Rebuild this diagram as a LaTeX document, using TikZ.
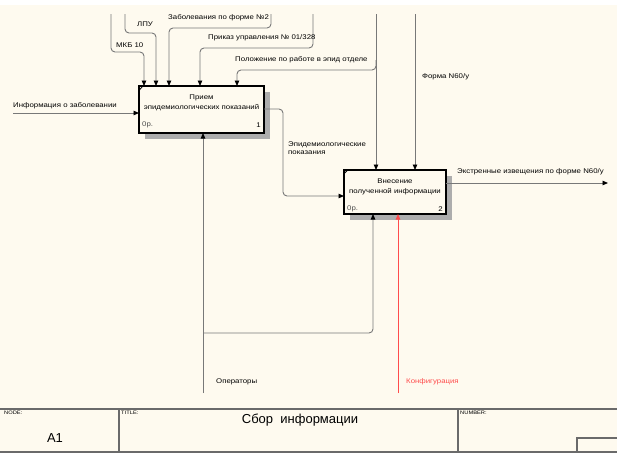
\documentclass[tikz,border=0pt]{standalone}
\usepackage{fontspec}
\setmainfont{Liberation Sans}
\newfontfamily\lbl[FakeStretch=1.15]{Liberation Sans}
\usetikzlibrary{arrows.meta,calc}
\definecolor{paper}{HTML}{FEFAEF}
\definecolor{wire}{HTML}{787878}
\definecolor{rule}{HTML}{6A6A6A}
\definecolor{cfg}{HTML}{FF4C4C}
\begin{document}
\begin{tikzpicture}[x=1pt,y=-1pt,
  wire/.style={draw=wire,line width=0.9pt,rounded corners=4pt},
  arr/.style={-{Triangle[length=5.5pt,width=4.5pt,color=black]}},
  redarr/.style={-{Triangle[length=5.5pt,width=4.5pt,color=cfg]}},
  lab/.style={font=\lbl\fontsize{6.8}{7.8}\selectfont,inner sep=0pt,anchor=west},
  func/.style={draw=black,line width=1.3pt,fill=paper,inner sep=0pt},
  ftext/.style={font=\lbl\fontsize{6.8}{10.5}\selectfont,inner sep=0pt,align=center},
  shade/.style={fill=black!32,draw=none},
  rulel/.style={draw=rule,line width=1.1pt},
  tiny/.style={font=\lbl\fontsize{5}{6}\selectfont,inner sep=0pt,anchor=north west}
]
% sheet
\fill[paper] (0,0) rectangle (617,453);
\fill[white] (0,0) rectangle (617,5);
\useasboundingbox (0,0) rectangle (617,453);

% shadows behind the activity boxes
\fill[shade] (145,92) rectangle (270,139);
\fill[shade] (350,176) rectangle (452,220);

% activity boxes
\node[func,minimum width=125pt,minimum height=47pt] (f1) at (201.5,109.5) {};
\node[func,minimum width=102pt,minimum height=44pt] (f2) at (395,192) {};
\draw[line width=0.8pt] ($(f1.north west)+(0,6)$) -- ($(f1.north west)+(5,0)$);
\draw[line width=0.8pt] ($(f2.north west)+(0,5)$) -- ($(f2.north west)+(5,0)$);
\node[ftext] (f1t) at (201.5,103) {Прием\\эпидемиологических показаний};
\node[ftext] (f2t) at (395,187) {Внесение\\полученной информации};
\node[lab,text=black!70] (f1c) at (142,125) {0р.};
\node[lab,anchor=east] (f1n) at (261,125) {1};
\node[lab,text=black!70] (f2c) at (347,209) {0р.};
\node[lab,anchor=east] (f2n) at (443,209) {2};

% free ends of the arrows
\coordinate (mkb) at (111,14);
\coordinate (lpu) at (125,14);
\coordinate (zab) at (271,14);
\coordinate (prk) at (313,14);
\coordinate (pol) at (376,14);
\coordinate (frm) at (415,14);
\coordinate (inf) at (13,113);
\coordinate (ext) at (608,183);
\coordinate (opr) at (203,393);
\coordinate (kfg) at (398,393);

% controls
\draw[wire,arr] (mkb) |- (144,52) -- (144,86);
\draw[wire,arr] (lpu) |- (156,33) -- (156,86);
\draw[wire,arr] (zab) |- (169,28) -- (169,86);
\draw[wire,arr] (prk) |- (200,48) -- (200,86);
\draw[wire,arr] (pol) -- (376,170);
\draw[wire,arr] (376,60) |- (237,70) -- (237,86);
\draw[wire,arr] (frm) -- (415,170);

% input and outputs
\draw[wire,arr] (inf) -- (139,113);
\draw[wire,arr] (264,109) -- (283,109) -- (283,196) -- (344,196);
\draw[wire,arr] (446,183) -- (ext);

% mechanisms
\draw[wire,arr] (opr) -- (203,133);
\draw[wire,arr] (203,333) -| (373,214);
\draw[wire,draw=cfg,redarr] (kfg) -- (398,214);

% arrow labels
\node[lab] (lmkb) at (116,45) {МКБ 10};
\node[lab] (llpu) at (137,24) {ЛПУ};
\node[lab] (lzab) at (168,18) {Заболевания по форме №2};
\node[lab] (lprk) at (208,38) {Приказ управления № 01/328};
\node[lab] (lpol) at (235,60) {Положение по работе в эпид отделе};
\node[lab] (lfrm) at (422,77) {Форма N60/у};
\node[lab] (linf) at (13,106) {Информация о заболевании};
\node[lab,anchor=north west,align=left] (lepi) at (288,142) {Эпидемиологические\\показания};
\node[lab] (lext) at (457,172) {Экстренные извещения по форме N60/у};
\node[lab] (lopr) at (216,382) {Операторы};
\node[lab,text=cfg] (lkfg) at (406,382) {Конфигурация};

% title block
\draw[rulel] (0,409) -- (617,409);
\draw[rulel] (0,452) -- (617,452);
\draw[rulel] (119,409) -- (119,452);
\draw[rulel] (458,409) -- (458,452);
\draw[rulel] (577,452) |- (617,438);
\node[tiny] (tnode) at (4,411) {NODE:};
\node[tiny] (ttitle) at (121,411) {TITLE:};
\node[tiny] (tnum) at (460,411) {NUMBER:};
\node[font=\fontsize{13}{15}\selectfont,inner sep=0pt] (a1) at (55,438) {A1};
\node[font=\fontsize{13}{15}\selectfont,inner sep=0pt] (title) at (300,420) {Сбор\ \ информации};
\end{tikzpicture}
\end{document}
